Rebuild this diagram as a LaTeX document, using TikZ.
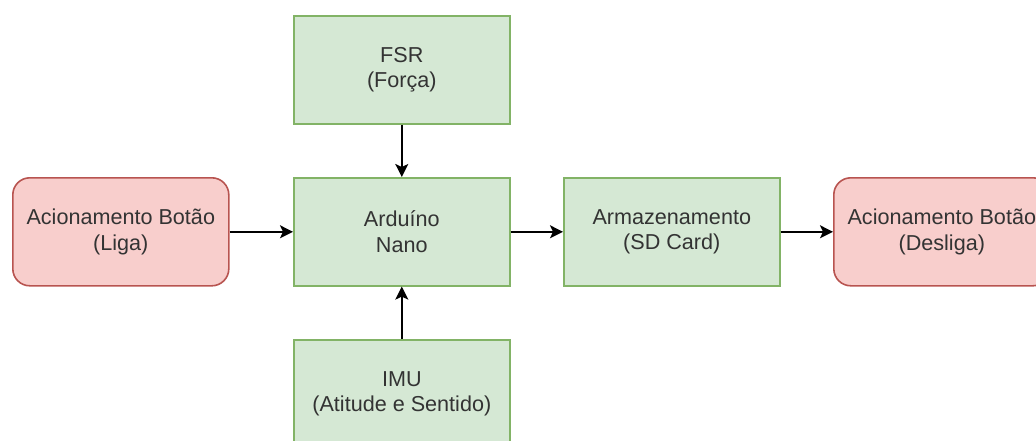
\documentclass[tikz,border=0pt]{standalone}
\usepackage{fontspec}
\setmainfont{Liberation Sans}
\usetikzlibrary{arrows.meta}
\definecolor{gfill}{HTML}{D5E8D4}
\definecolor{gdraw}{HTML}{82B366}
\definecolor{rfill}{HTML}{F8CECC}
\definecolor{rdraw}{HTML}{B85450}
\definecolor{txt}{HTML}{333333}
\begin{document}
\begin{tikzpicture}[x=1pt,y=-1pt,
  base/.style={minimum width=216pt,minimum height=108pt,inner sep=0pt,line width=1.6pt,
    align=center,text=txt,font=\fontsize{21.6}{25.5}\selectfont,anchor=north west},
  gbox/.style={base,fill=gfill,draw=gdraw},
  rbox/.style={base,fill=rfill,draw=rdraw,rounded corners=17pt},
  conn/.style={line width=1.8pt,-{Stealth[length=13pt,width=13pt,inset=3pt]}}]
\useasboundingbox (0,0) rectangle (1036,441);
\clip (0,0) rectangle (1036,441);
\node[rbox] (liga) at (12,177) {Acionamento Botão\\(Liga)};
\node[gbox] (fsr) at (293,15) {FSR\\(Força)};
\node[gbox] (ard) at (293,177) {Arduíno\\Nano};
\node[gbox] (imu) at (293,339) {IMU\\(Atitude e Sentido)};
\node[gbox] (arm) at (563,177) {Armazenamento\\(SD Card)};
\node[rbox] (desl) at (833,177) {Acionamento Botão\\(Desliga)};
\draw[conn] (liga.east) -- (ard.west);
\draw[conn] (fsr.south) -- (ard.north);
\draw[conn] (imu.north) -- (ard.south);
\draw[conn] (ard.east) -- (arm.west);
\draw[conn] (arm.east) -- (desl.west);
\end{tikzpicture}
\end{document}
